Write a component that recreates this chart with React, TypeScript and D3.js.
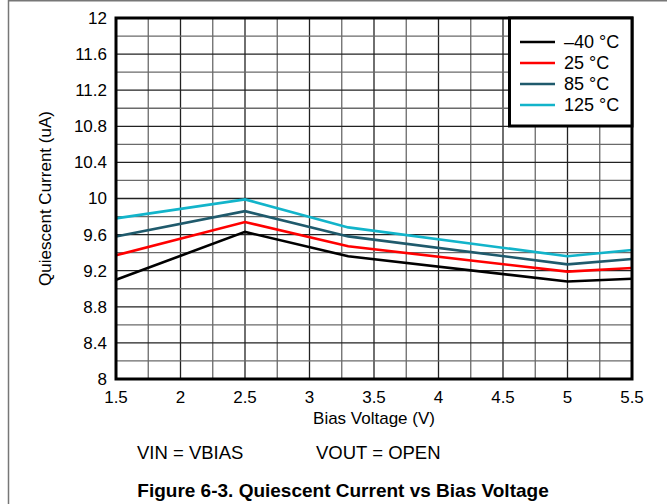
import React, { useEffect, useRef } from "react";
import * as d3 from "d3";

// bias voltage points (V)
const biasVoltage = [1.5, 2.5, 3.3, 5, 5.5];

// quiescent current (uA) per temperature
const currentM40 = [9.1, 9.63, 9.36, 9.08, 9.11];
const current25 = [9.37, 9.74, 9.47, 9.19, 9.23];
const current85 = [9.58, 9.86, 9.58, 9.27, 9.33];
const current125 = [9.78, 9.99, 9.68, 9.36, 9.43];

const seriesNames = ["\u201340 \u00b0C", "25 \u00b0C", "85 \u00b0C", "125 \u00b0C"];
const seriesColors = ["#000000", "#ff0000", "#1f5a6c", "#12b4ca"];

const xTicks = [1.5, 2, 2.5, 3, 3.5, 4, 4.5, 5, 5.5];
const yTicks = [8, 8.4, 8.8, 9.2, 9.6, 10, 10.4, 10.8, 11.2, 11.6, 12];

export default function App() {
    const svgRef = useRef<SVGSVGElement | null>(null);

    useEffect(() => {
        if (!svgRef.current) return;
        const svg = d3.select(svgRef.current);
        svg.selectAll("*").remove();

        const W = 667;
        const H = 504;
        const left = 116, right = 632, top = 18, bottom = 379;
        const font = "'Liberation Sans', Arial, sans-serif";
        const fs = "17px";

        svg.attr("width", W).attr("height", H);

        // figure frame (left + top)
        svg.append("line").attr("x1", 8.5).attr("x2", 8.5).attr("y1", 0).attr("y2", H)
            .attr("stroke", "#777").attr("stroke-width", 1.5);
        svg.append("line").attr("x1", 8).attr("x2", W).attr("y1", 0.75).attr("y2", 0.75)
            .attr("stroke", "#777").attr("stroke-width", 1.5);

        const x = d3.scaleLinear().domain([1.5, 5.5]).range([left, right]);
        const y = d3.scaleLinear().domain([8, 12]).range([bottom, top]);

        const grid = svg.append("g");
        // vertical grid every 0.25 V
        d3.range(1.75, 5.5, 0.25).forEach((v, i) => {
            grid.append("line")
                .attr("x1", x(v)).attr("x2", x(v))
                .attr("y1", top).attr("y2", bottom)
                .attr("stroke", i % 2 === 0 ? "#6a6a6a" : "#222")
                .attr("stroke-width", 1.3);
        });
        // horizontal grid every 0.2 uA
        d3.range(8.2, 12, 0.2).forEach((v, i) => {
            grid.append("line")
                .attr("x1", left).attr("x2", right)
                .attr("y1", y(v)).attr("y2", y(v))
                .attr("stroke", i % 2 === 0 ? "#6a6a6a" : "#222")
                .attr("stroke-width", 1.3);
        });

        const allSeries = [currentM40, current25, current85, current125];
        const line = d3.line<number>()
            .x((_, i) => x(biasVoltage[i]))
            .y(d => y(d));

        allSeries.forEach((s, i) => {
            svg.append("path")
                .datum(s)
                .attr("d", line)
                .attr("fill", "none")
                .attr("stroke", seriesColors[i])
                .attr("stroke-width", 2.6)
                .attr("stroke-linejoin", "miter");
        });

        // plot border
        svg.append("rect")
            .attr("x", left).attr("y", top)
            .attr("width", right - left).attr("height", bottom - top)
            .attr("fill", "none").attr("stroke", "#000").attr("stroke-width", 3);

        // axes labels
        svg.append("g").selectAll("text")
            .data(yTicks)
            .join("text")
            .attr("x", 107)
            .attr("y", d => y(d))
            .attr("dy", "0.35em")
            .attr("text-anchor", "end")
            .style("font-family", font)
            .style("font-size", fs)
            .text(d => d3.format("~g")(d));

        svg.append("g").selectAll("text")
            .data(xTicks)
            .join("text")
            .attr("x", d => x(d))
            .attr("y", 403)
            .attr("text-anchor", "middle")
            .style("font-family", font)
            .style("font-size", fs)
            .text(d => d3.format("~g")(d));

        svg.append("text")
            .attr("x", x(3.5))
            .attr("y", 424)
            .attr("text-anchor", "middle")
            .style("font-family", font)
            .style("font-size", fs)
            .text("Bias Voltage (V)");

        svg.append("text")
            .attr("transform", `translate(51,${(top + bottom) / 2}) rotate(-90)`)
            .attr("text-anchor", "middle")
            .style("font-family", font)
            .style("font-size", fs)
            .text("Quiescent Current (uA)");

        // conditions
        svg.append("text")
            .attr("x", 137).attr("y", 459)
            .style("font-family", font)
            .style("font-size", "18.5px")
            .text("VIN = VBIAS");
        svg.append("text")
            .attr("x", 316).attr("y", 459)
            .style("font-family", font)
            .style("font-size", "18.5px")
            .text("VOUT = OPEN");

        svg.append("text")
            .attr("x", 343).attr("y", 497)
            .attr("text-anchor", "middle")
            .style("font-family", font)
            .style("font-size", "19px")
            .style("font-weight", "bold")
            .text("Figure 6-3. Quiescent Current vs Bias Voltage");

        // legend
        const lg = svg.append("g");
        lg.append("rect")
            .attr("x", 509.5).attr("y", top)
            .attr("width", right - 509.5).attr("height", 108)
            .attr("fill", "#fff").attr("stroke", "#000").attr("stroke-width", 3);
        const rowY = d3.scaleLinear().domain([0, 3]).range([42, 105]);
        seriesNames.forEach((name, i) => {
            lg.append("line")
                .attr("x1", 520).attr("x2", 555)
                .attr("y1", rowY(i)).attr("y2", rowY(i))
                .attr("stroke", seriesColors[i]).attr("stroke-width", 2.6);
            lg.append("text")
                .attr("x", 564).attr("y", rowY(i))
                .attr("dy", "0.35em")
                .style("font-family", font)
                .style("font-size", "18px")
                .text(name);
        });
    }, []);

    return (
        <div style={{ position: "absolute", left: 0, top: 0 }}>
            <svg ref={svgRef} style={{ display: "block", background: "#fff" }} />
        </div>
    );
}
